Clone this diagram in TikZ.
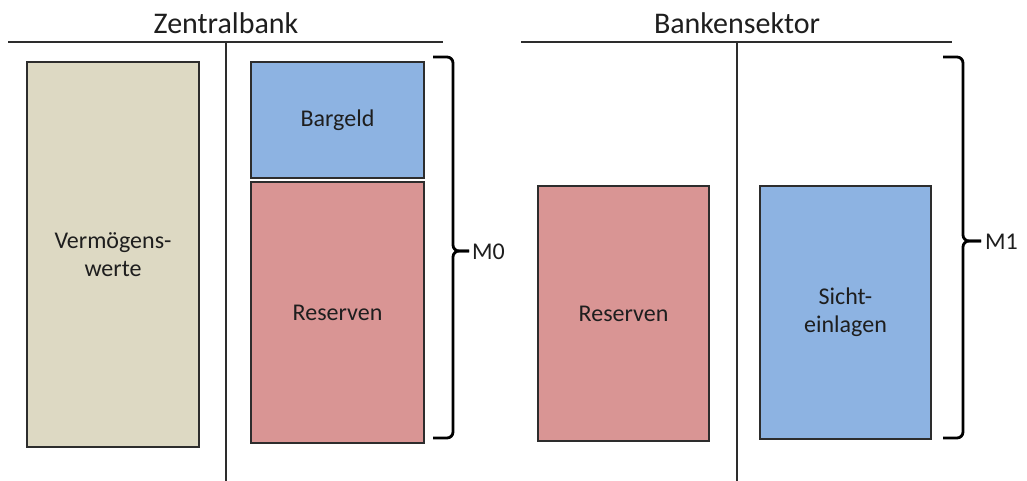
\documentclass[tikz,border=0pt]{standalone}
\usepackage{fontspec}
\setmainfont{Carlito}
\definecolor{beige}{RGB}{221,217,195}
\definecolor{bblue}{RGB}{141,179,226}
\definecolor{bred}{RGB}{217,149,148}
\definecolor{txt}{RGB}{30,30,30}
\definecolor{edge}{RGB}{45,45,45}
\begin{document}
\begin{tikzpicture}[x=1pt,y=-1pt,
  acct/.style={draw=edge,line width=1.6pt,inner sep=0pt,align=center,text=txt,font=\fontsize{24}{28}\selectfont},
  title/.style={text=txt,font=\fontsize{30}{34}\selectfont,inner sep=0pt},
  tline/.style={draw=edge,line width=1.4pt},
  bracestyle/.style={draw=black,line width=2.8pt,rounded corners=6pt},
  mlabel/.style={text=txt,font=\fontsize{24}{28}\selectfont,inner sep=0pt,anchor=west}]
\useasboundingbox (0,0) rectangle (1027,481);
\fill[white] (0,0) rectangle (1027,481);
% Zentralbank T-account
\node[title] (zbt) at (226,23) {Zentralbank};
\coordinate (zl) at (8,42);
\coordinate (zr) at (443,42);
\coordinate (zt) at (226,42);
\coordinate (zb) at (226,481);
\draw[tline] (zl) -- (zr);
\draw[tline] (zt) -- (zb);
\node[acct,fill=beige,minimum width=172pt,minimum height=385pt] (verm) at (113,254.5) {Vermögens-\\werte};
\node[acct,fill=bblue,minimum width=173pt,minimum height=116pt] (barg) at (337.5,120) {Bargeld};
\node[acct,fill=bred,minimum width=173pt,minimum height=261pt] (res1) at (337.5,312.5) {Reserven};
% M0 brace
\coordinate (m0a) at (433,57);
\coordinate (m0b) at (433,438);
\coordinate (m0tip) at (453,251);
\coordinate (m0end) at (469,251);
\draw[bracestyle] (m0a) -| (m0tip) -- (m0end);
\draw[bracestyle] (m0b) -| (m0tip) -- (m0end);
\node[mlabel] (m0) at (472,252) {M0};
% Bankensektor T-account
\node[title] (bst) at (737,23) {Bankensektor};
\coordinate (bl) at (521,42);
\coordinate (br) at (952,42);
\coordinate (bt) at (737,42);
\coordinate (bb) at (737,481);
\draw[tline] (bl) -- (br);
\draw[tline] (bt) -- (bb);
\node[acct,fill=bred,minimum width=171pt,minimum height=255pt] (res2) at (623.5,313.5) {Reserven};
\node[acct,fill=bblue,minimum width=171pt,minimum height=253pt] (sicht) at (845.5,312.5) {Sicht-\\einlagen};
% M1 brace
\coordinate (m1a) at (943,57);
\coordinate (m1b) at (943,438);
\coordinate (m1tip) at (963,241);
\coordinate (m1end) at (981,241);
\draw[bracestyle] (m1a) -| (m1tip) -- (m1end);
\draw[bracestyle] (m1b) -| (m1tip) -- (m1end);
\node[mlabel] (m1) at (985,242) {M1};
\end{tikzpicture}
\end{document}
